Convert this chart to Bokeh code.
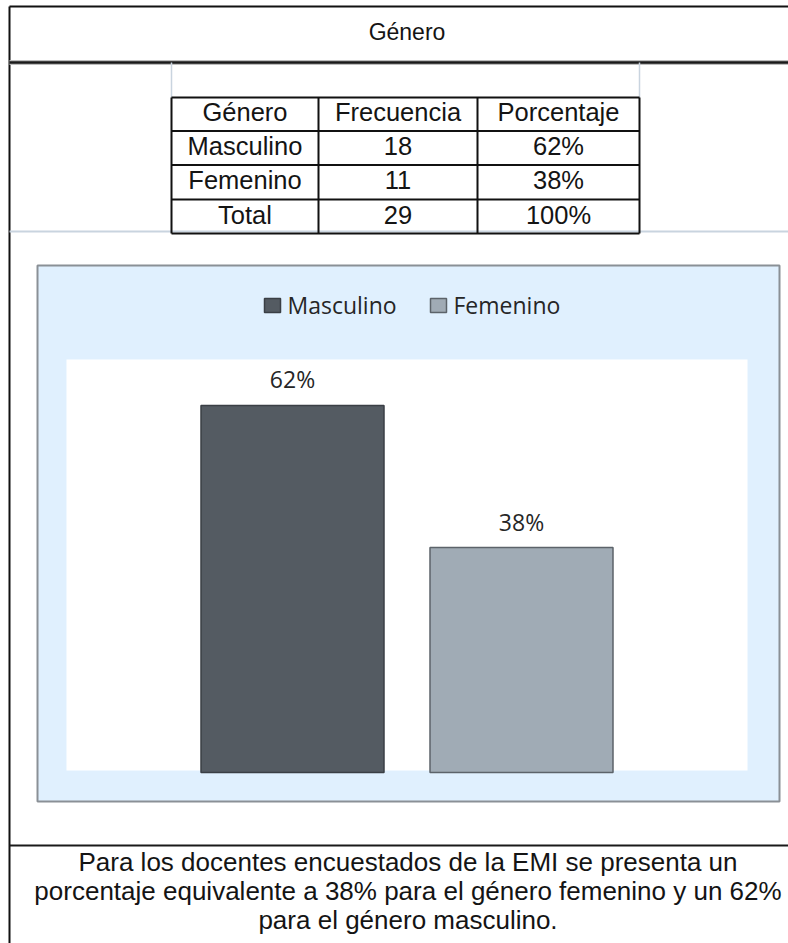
from bokeh.plotting import figure
from bokeh.models import Range1d, ColumnDataSource
from bokeh.core.properties import value
from bokeh.embed import file_html
from bokeh.resources import INLINE

# ---------------- data ----------------
title_text = "Género"
header_labels = ["Género", "Frecuencia", "Porcentaje"]
categories = ["Masculino", "Femenino"]
frecuencia = [18, 11]
porcentaje = [62, 38]
total_label = "Total"
total_frecuencia = 29
total_porcentaje = 100
paragraph_lines = [
    "Para los docentes encuestados de la EMI se presenta un",
    "porcentaje equivalente a 38% para el género femenino y un 62%",
    "para el género masculino.",
]

# ---------------- styles ----------------
bar_colors = ["#545b62", "#a0abb5"]
bar_line_colors = ["#3a3f45", "#5c636a"]
TEXT_COLOR = "#141414"
SERIF_FONT = "Liberation Sans"
CHART_FONT = "Open Sans"
CHART_BG = "#e0f0fe"
CHART_BORDER = "#8a9096"
LIGHT_LINE = "#c9d4df"

# ---------------- layout (page pixels) ----------------
W, H = 792, 943
PX0, PY0 = 0, 0
PX1, PY1 = PX0 + W, PY0 + H
FRAME_X = 9
FRAME_TOP = 6
TITLE_LINE_Y = 62
LIGHT_H_Y = 231
BOTTOM_LINE_Y = 845
TABLE_COLS = [171, 318, 477, 639]
TABLE_ROWS = [97, 130.5, 164.5, 199, 233]
CHART_BOX = (37, 779, 265, 801)       # left, right, top, bottom
PLOT_AREA = (66, 747, 359, 770)
ZERO_Y = 772                          # page y of value 0
PX_PER_PCT = 5.92
BAR_W_PX = 183
BAR_GAP_PX = 46
LABEL_GAP_PX = 26
LEGEND_SWATCH_X = [272, 438]
LEGEND_TEXT_X = [287, 453]
LEGEND_Y = 304
TITLE_Y = 31
PARA_CENTERS = [861, 890, 919]

p = figure(width=W, height=H,
           x_range=Range1d(PX0, PX1), y_range=Range1d(PY1, PY0),
           output_backend="svg", toolbar_location=None,
           x_axis_location=None, y_axis_location=None, min_border=0)
p.grid.visible = False
p.outline_line_color = None
p.background_fill_color = "white"
p.border_fill_color = "white"

# value scale for the bars (library scale) and category scale
plot_w = PLOT_AREA[1] - PLOT_AREA[0]
p.extra_y_ranges = {"pct": Range1d(start=-(PY1 - ZERO_Y) / PX_PER_PCT,
                                   end=(ZERO_Y - PY0) / PX_PER_PCT)}
p.extra_x_ranges = {"cat": Range1d(start=(PX0 - PLOT_AREA[0]) / plot_w,
                                   end=(PX1 - PLOT_AREA[0]) / plot_w)}

# ---------------- document frame ----------------
p.segment(x0=[FRAME_X], y0=[FRAME_TOP], x1=[FRAME_X], y1=[PY1], line_color="#111111", line_width=2)
p.segment(x0=[FRAME_X], y0=[FRAME_TOP], x1=[PX1], y1=[FRAME_TOP], line_color="#111111", line_width=2)
p.segment(x0=[FRAME_X], y0=[TITLE_LINE_Y], x1=[PX1], y1=[TITLE_LINE_Y], line_color="#bdbdbd", line_width=5)
p.segment(x0=[FRAME_X], y0=[TITLE_LINE_Y], x1=[PX1], y1=[TITLE_LINE_Y], line_color="#1a1a1a", line_width=2.5)
p.segment(x0=[FRAME_X], y0=[LIGHT_H_Y], x1=[PX1], y1=[LIGHT_H_Y], line_color=LIGHT_LINE, line_width=2)
p.segment(x0=[TABLE_COLS[0], TABLE_COLS[-1]], y0=[TITLE_LINE_Y, TITLE_LINE_Y],
          x1=[TABLE_COLS[0], TABLE_COLS[-1]], y1=[TABLE_ROWS[0], TABLE_ROWS[0]],
          line_color=LIGHT_LINE, line_width=1.5)
p.segment(x0=[FRAME_X], y0=[BOTTOM_LINE_Y], x1=[PX1], y1=[BOTTOM_LINE_Y], line_color="#1a1a1a", line_width=2)

p.text(x=[(PLOT_AREA[0] + PLOT_AREA[1]) / 2], y=[TITLE_Y], text=[title_text],
       text_align="center", text_baseline="middle", text_color=TEXT_COLOR,
       text_font=value(SERIF_FONT), text_font_size="23px")

# ---------------- table ----------------
rows = [header_labels]
for c, f, pc in zip(categories, frecuencia, porcentaje):
    rows.append([c, str(f), f"{pc}%"])
rows.append([total_label, str(total_frecuencia), f"{total_porcentaje}%"])

p.segment(x0=[TABLE_COLS[0]] * len(TABLE_ROWS), y0=TABLE_ROWS,
          x1=[TABLE_COLS[-1]] * len(TABLE_ROWS), y1=TABLE_ROWS,
          line_color="#111111", line_width=2)
p.segment(x0=TABLE_COLS, y0=[TABLE_ROWS[0]] * len(TABLE_COLS),
          x1=TABLE_COLS, y1=[TABLE_ROWS[-1]] * len(TABLE_COLS),
          line_color="#111111", line_width=2)

tx, ty, tt = [], [], []
for r, row in enumerate(rows):
    for c, cell in enumerate(row):
        tx.append((TABLE_COLS[c] + TABLE_COLS[c + 1]) / 2)
        ty.append((TABLE_ROWS[r] + TABLE_ROWS[r + 1]) / 2 - 2)
        tt.append(cell)
p.text(x=tx, y=ty, text=tt, text_align="center", text_baseline="middle",
       text_color=TEXT_COLOR, text_font=value(SERIF_FONT), text_font_size="25.5px")

# ---------------- chart ----------------
p.quad(left=[CHART_BOX[0]], right=[CHART_BOX[1]], top=[CHART_BOX[2]], bottom=[CHART_BOX[3]],
       fill_color=CHART_BG, line_color=CHART_BORDER, line_width=2)
p.quad(left=[PLOT_AREA[0]], right=[PLOT_AREA[1]], top=[PLOT_AREA[2]], bottom=[PLOT_AREA[3]],
       fill_color="white", line_color=None)

n = len(categories)
step = (BAR_W_PX + BAR_GAP_PX) / plot_w
bar_x = [0.5 + (i - (n - 1) / 2) * step for i in range(n)]
src = ColumnDataSource(dict(
    x=bar_x, top=porcentaje, cat=categories,
    fill=bar_colors, line=bar_line_colors,
    label=[f"{v}%" for v in porcentaje],
    label_y=[v + LABEL_GAP_PX / PX_PER_PCT for v in porcentaje],
))
p.vbar(x="x", top="top", bottom=0, width=BAR_W_PX / plot_w, source=src,
       fill_color="fill", line_color="line", line_width=1.5,
       x_range_name="cat", y_range_name="pct")
p.text(x="x", y="label_y", text="label", source=src,
       x_range_name="cat", y_range_name="pct",
       text_align="center", text_baseline="middle", text_color="#262626",
       text_font=value(CHART_FONT), text_font_size="23px")

# legend
p.rect(x=LEGEND_SWATCH_X, y=[LEGEND_Y + 1] * n, width=16, height=14,
       fill_color=bar_colors, line_color=bar_line_colors, line_width=1.5)
p.text(x=LEGEND_TEXT_X, y=[LEGEND_Y] * n, text=categories,
       text_align="left", text_baseline="middle", text_color="#262626",
       text_font=value(CHART_FONT), text_font_size="23px")

# ---------------- paragraph ----------------
p.text(x=[(PLOT_AREA[0] + PLOT_AREA[1]) / 2 + 1] * len(paragraph_lines), y=PARA_CENTERS,
       text=paragraph_lines, text_align="center", text_baseline="middle",
       text_color=TEXT_COLOR, text_font=value(SERIF_FONT), text_font_size="26px")

open("out.html", "w").write(file_html(p, INLINE))
